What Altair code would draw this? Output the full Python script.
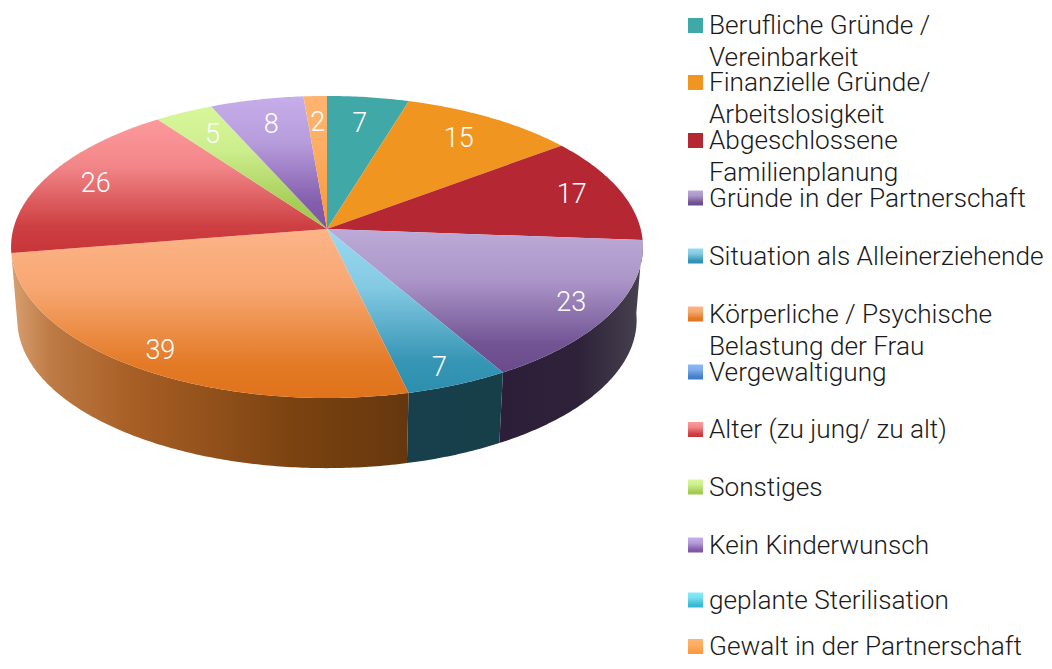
import math
import altair as alt
import pandas as pd

categories = [
    ["Berufliche Gründe /", "Vereinbarkeit"],
    ["Finanzielle Gründe/", "Arbeitslosigkeit"],
    ["Abgeschlossene", "Familienplanung"],
    ["Gründe in der Partnerschaft"],
    ["Situation als Alleinerziehende"],
    ["Körperliche / Psychische", "Belastung der Frau"],
    ["Vergewaltigung"],
    ["Alter (zu jung/ zu alt)"],
    ["Sonstiges"],
    ["Kein Kinderwunsch"],
    ["geplante Sterilisation"],
    ["Gewalt in der Partnerschaft"],
]
values = [7, 15, 17, 23, 7, 39, 0, 26, 5, 8, 0, 2]
top_colors = ["#40a8a7", "#f09520", "#b42733", "#bcaad8", "#9ad9f0", "#fdb488",
              "#8fb8f5", "#fd9a9c", "#d8f79c", "#c6aeea", "#8aeaf8", "#fdb470"]
bottom_colors = ["#40a8a7", "#f09520", "#b42733", "#6a4a8c", "#2c8fae", "#e0731b",
                 "#3f7bc8", "#c83538", "#a0c850", "#7d55a5", "#34b5d5", "#fb9a40"]
wall_stops = {
    3: [(0, "#2c1e38"), (0.55, "#2e2239"), (1, "#48424f")],
    4: [(0, "#17404c"), (1, "#173f4a")],
    5: [(0, "#d8a070"), (0.1, "#bd7a45"), (0.3, "#a85f25"), (0.72, "#7a4210"), (1, "#65370e")],
}
legend_y = [25.5, 82.5, 140.5, 198, 256, 314, 372, 429.5, 487, 545, 600, 646.5]

CX, CY, RX, RY, K = 327.0, 229.0, 313.7, 148.9, 0.119
BOTTOM_CY, BOTTOM_SCALE = 302.5, 0.98
W, H = 1036, 653
total = sum(values)


def project(theta):
    u, v = math.sin(theta), math.cos(theta)
    s = 1 / (1 + K * v)
    return CX + RX * u * s, CY - RY * v * s


def arc(a, b, bottom=False):
    n = max(2, int(abs(b - a) * 90))
    pts = []
    for i in range(n + 1):
        x, y = project(a + (b - a) * i / n)
        if bottom:
            x = CX + (x - CX) * BOTTOM_SCALE
            y = BOTTOM_CY + (y - CY) * BOTTOM_SCALE
        pts.append((x, y))
    return pts


def mix(c1, c2, t):
    p = [int(c1[i:i + 2], 16) for i in (1, 3, 5)]
    q = [int(c2[i:i + 2], 16) for i in (1, 3, 5)]
    return "#" + "".join(f"{round(a + (b - a) * t):02x}" for a, b in zip(p, q))


def ramp(top, bottom):
    return [(0, top), (0.35, mix(top, bottom, 0.2)), (0.8, mix(top, bottom, 0.9)), (1, bottom)]


def gradient(stops, horizontal=False):
    return alt.LinearGradient(
        gradient="linear",
        x1=0, y1=0,
        x2=1 if horizontal else 0,
        y2=0 if horizontal else 1,
        stops=[alt.GradientStop(offset=o, color=c) for o, c in stops],
    )


X = alt.X("x:Q", scale=alt.Scale(domain=[8, 8 + W], range=[0, W], nice=False, zero=False), axis=None)
Y = alt.Y("y:Q", scale=alt.Scale(domain=[8, 8 + H], range=[0, H], nice=False, zero=False), axis=None)


def polygon(pts, fill):
    df = pd.DataFrame({"x": [p[0] for p in pts], "y": [p[1] for p in pts], "o": range(len(pts))})
    return alt.Chart(df).mark_line(fill=fill, strokeWidth=0, interpolate="linear-closed", clip=False).encode(
        x=X, y=Y, order=alt.Order("o:Q")
    )


layers, tops, labels, cum = [], [], [], 0
for i, val in enumerate(values):
    if val == 0:
        continue
    a = 2 * math.pi * cum / total
    b = 2 * math.pi * (cum + val) / total
    mid = (a + b) / 2
    if i in wall_stops:
        pts = arc(a, b) + arc(b, a, bottom=True)
        layers.append(polygon(pts, gradient(wall_stops[i], horizontal=True)))
    tops.append(polygon([(CX, CY)] + arc(a, b), gradient(ramp(top_colors[i], bottom_colors[i]))))
    rim_x, rim_y = project(mid)
    v = math.cos(mid)
    fx = 0.86 - 0.07 * max(v, 0)
    fy = 0.85 - 0.05 * v
    labels.append({"x": CX + (rim_x - CX) * fx, "y": CY + (rim_y - CY) * fy, "t": str(val)})
    cum += val

label_chart = alt.Chart(pd.DataFrame(labels)).mark_text(
    font="Roboto", fontSize=27, fontWeight=300, color="white", align="center", baseline="middle"
).encode(x=X, y=Y, text="t:N")

legend_layers = []
text_rows = []
for i, lines in enumerate(categories):
    sq = pd.DataFrame({"x": [695.5], "y": [legend_y[i]]})
    legend_layers.append(
        alt.Chart(sq).mark_square(size=225, fill=gradient(ramp(top_colors[i], bottom_colors[i])),
                                  strokeWidth=0, opacity=1).encode(x=X, y=Y)
    )
    for j, line in enumerate(lines):
        text_rows.append({"x": 709, "y": legend_y[i] + 8.5 + 32 * j, "t": line})

legend_text = alt.Chart(pd.DataFrame(text_rows)).mark_text(
    font="Roboto", fontSize=26.2, fontWeight=300, color="#1a1a1a", align="left", baseline="alphabetic"
).encode(x=X, y=Y, text="t:N")

chart = alt.layer(*layers, *tops, label_chart, *legend_layers, legend_text).properties(
    width=W, height=H, padding=0, autosize=alt.AutoSizeParams(type="none")
).configure_view(stroke=None)

chart.save("out.html", embed_options={"renderer": "svg", "actions": False})
